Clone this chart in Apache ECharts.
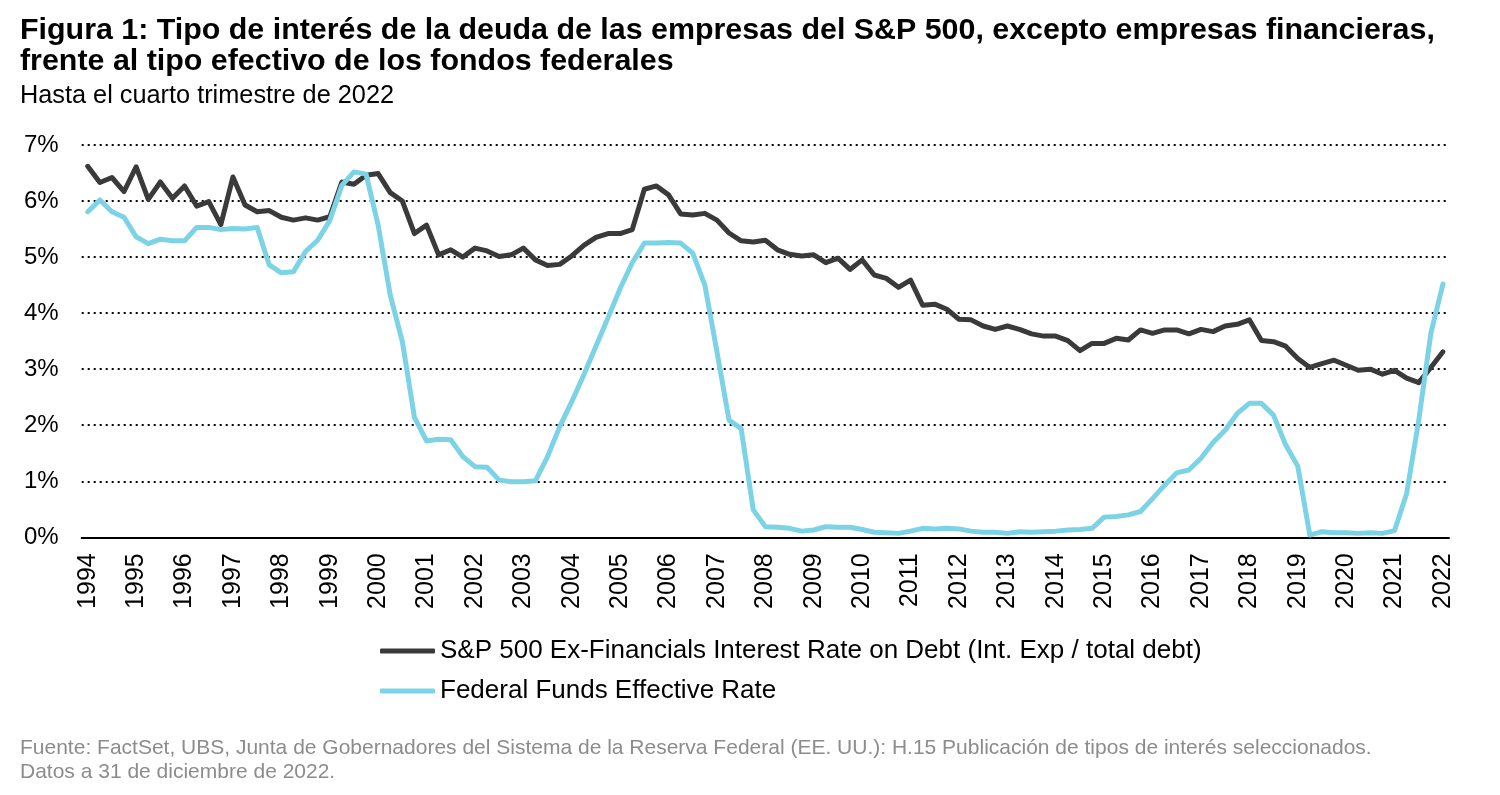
<!DOCTYPE html>
<html>
<head>
<meta charset="utf-8">
<script src="https://cdn.jsdelivr.net/npm/echarts@6/dist/echarts.min.js"></script>
<style>
html,body{margin:0;padding:0;background:#fff;}
#chart{width:1500px;height:795px;}
</style>
</head>
<body>
<div id="chart"></div>
<script>
// Quarterly data, 1994 Q4 .. 2022 Q4
var firstYear = 1994;
var lastYear = 2022;
var categories = [];
for (var y = firstYear; y <= lastYear; y++) {
  if (y === firstYear) { categories.push(y + ' Q4'); continue; }
  ['Q1','Q2','Q3','Q4'].forEach(function(q){ categories.push(y + ' ' + q); });
}

var spxExFinRate = [
  6.62, 6.33, 6.42, 6.17, 6.61, 6.03, 6.34, 6.05, 6.27, 5.91,
  5.99, 5.58, 6.43, 5.93, 5.81, 5.83, 5.71, 5.66, 5.70, 5.66,
  5.72, 6.34, 6.30, 6.46, 6.49, 6.15, 6.00, 5.42, 5.57, 5.04,
  5.13, 5.00, 5.16, 5.11, 5.01, 5.04, 5.16, 4.95, 4.85, 4.87,
  5.02, 5.21, 5.35, 5.42, 5.42, 5.49, 6.21, 6.27, 6.11, 5.77,
  5.75, 5.78, 5.66, 5.43, 5.29, 5.27, 5.30, 5.13, 5.05, 5.02,
  5.04, 4.90, 4.98, 4.78, 4.95, 4.68, 4.62, 4.46, 4.59, 4.14,
  4.16, 4.07, 3.89, 3.88, 3.77, 3.71, 3.77, 3.71, 3.63, 3.59,
  3.59, 3.51, 3.33, 3.46, 3.46, 3.55, 3.52, 3.70, 3.64, 3.70,
  3.70, 3.63, 3.71, 3.67, 3.77, 3.80, 3.88, 3.51, 3.49, 3.41,
  3.19, 3.03, 3.10, 3.16, 3.07, 2.98, 3.00, 2.91, 2.98, 2.84,
  2.76, 3.03, 3.31
];

var fedFundsRate = [
  5.81, 6.02, 5.81, 5.71, 5.36, 5.24, 5.32, 5.29, 5.29, 5.53,
  5.53, 5.49, 5.51, 5.50, 5.53, 4.86, 4.72, 4.74, 5.10, 5.30,
  5.65, 6.28, 6.52, 6.48, 5.57, 4.32, 3.49, 2.14, 1.72, 1.75,
  1.74, 1.44, 1.26, 1.25, 1.02, 0.99, 0.99, 1.01, 1.44, 1.97,
  2.42, 2.90, 3.41, 3.92, 4.44, 4.90, 5.25, 5.25, 5.26, 5.25,
  5.07, 4.50, 3.31, 2.09, 1.94, 0.49, 0.19, 0.18, 0.16, 0.11,
  0.13, 0.19, 0.18, 0.18, 0.14, 0.09, 0.08, 0.07, 0.11, 0.16,
  0.15, 0.16, 0.15, 0.11, 0.09, 0.09, 0.07, 0.10, 0.09, 0.10,
  0.11, 0.13, 0.14, 0.16, 0.36, 0.37, 0.40, 0.46, 0.69, 0.93,
  1.15, 1.20, 1.41, 1.69, 1.91, 2.21, 2.39, 2.39, 2.18, 1.65,
  1.27, 0.04, 0.10, 0.08, 0.08, 0.07, 0.08, 0.07, 0.12, 0.78,
  2.09, 3.64, 4.52
];

var seriesNames = [
  'S&P 500 Ex-Financials Interest Rate on Debt (Int. Exp / total debt)',
  'Federal Funds Effective Rate'
];

var FONT = 'Arial, "Liberation Sans", sans-serif';
var DARK = '#3a3a3a';
var CYAN = '#7dd3e6';

var chart = echarts.init(document.getElementById('chart'), null, {renderer: 'canvas'});
chart.setOption({
  backgroundColor: '#ffffff',
  animation: false,
  title: [
    {
      text: 'Figura 1: Tipo de interés de la deuda de las empresas del S&P 500, excepto empresas financieras,\nfrente al tipo efectivo de los fondos federales',
      left: 20, top: 15.5, padding: 0,
      textStyle: {fontFamily: FONT, fontSize: 30.4, fontWeight: 'bold', color: '#000', lineHeight: 30.5}
    },
    {
      text: 'Hasta el cuarto trimestre de 2022',
      left: 20, top: 83.5, padding: 0,
      textStyle: {fontFamily: FONT, fontSize: 25.3, fontWeight: 'normal', color: '#000', lineHeight: 25}
    },
    {
      text: 'Fuente: FactSet, UBS, Junta de Gobernadores del Sistema de la Reserva Federal (EE. UU.): H.15 Publicación de tipos de interés seleccionados.\nDatos a 31 de diciembre de 2022.',
      left: 20, top: 736, padding: 0,
      textStyle: {fontFamily: FONT, fontSize: 21, fontWeight: 'normal', color: '#8c8c8c', lineHeight: 24}
    }
  ],
  legend: {
    orient: 'vertical',
    left: 380, top: 638, padding: 0,
    itemWidth: 55, itemHeight: 5, itemGap: 14,
    icon: 'roundRect',
    textStyle: {fontFamily: FONT, fontSize: 26, color: '#000', lineHeight: 26},
    data: [
      {name: seriesNames[0], itemStyle: {color: DARK}},
      {name: seriesNames[1], itemStyle: {color: CYAN}}
    ]
  },
  grid: {left: 81.7, top: 145, width: 1367.3, height: 392.3, containLabel: false},
  xAxis: {
    type: 'category',
    data: categories,
    boundaryGap: true,
    axisLine: {show: true, lineStyle: {color: '#000', width: 2}},
    axisTick: {show: false},
    axisLabel: {
      interval: 3,
      rotate: 90,
      margin: 16,
      fontFamily: FONT, fontSize: 25, color: '#000',
      formatter: function (v) { return v.slice(0, 4); }
    },
    splitLine: {show: false}
  },
  yAxis: {
    type: 'value',
    min: 0, max: 7, interval: 1,
    axisLine: {show: false},
    axisTick: {show: false},
    axisLabel: {fontFamily: FONT, fontSize: 24, color: '#000', margin: 23, formatter: '{value}%'},
    splitLine: {show: true, lineStyle: {color: '#000', width: 2, type: [2, 4]}}
  },
  series: [
    {
      name: seriesNames[0],
      type: 'line',
      data: spxExFinRate,
      symbol: 'none',
      lineStyle: {color: DARK, width: 5, join: 'round', cap: 'round'},
      itemStyle: {color: DARK},
      z: 2
    },
    {
      name: seriesNames[1],
      type: 'line',
      data: fedFundsRate,
      symbol: 'none',
      lineStyle: {color: CYAN, width: 5, join: 'round', cap: 'round'},
      itemStyle: {color: CYAN},
      z: 3
    }
  ]
});
</script>
</body>
</html>
